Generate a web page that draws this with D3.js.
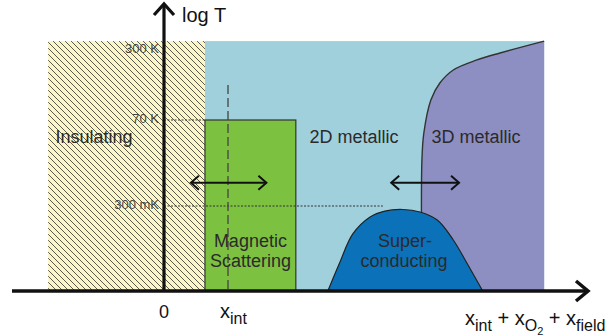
<!DOCTYPE html>
<html><head><meta charset="utf-8">
<script src="https://cdn.jsdelivr.net/npm/d3@7"></script>
<style>body{margin:0;background:#fff}svg{display:block;font-family:"Liberation Sans",Arial,sans-serif}</style>
</head><body><svg id="c" width="609" height="336"></svg>
<script>
// ---- data (schematic phase diagram) ----
const tickLabels = ["300 mK", "70 K", "300 K"];
const tickTemps = [0.3, 70, 300];
const phaseNames = ["Insulating", "2D metallic", "3D metallic"];
const phaseBounds = [-1.81, 0.64, 5.94];      // x units: insulating start, metallic start, right end
const tTop = 361, tBottom = 0.01;
const magX = [0.64, 2.06];                     // magnetic scattering range
const magT = 70;
const xIntDashTop = 145;
const scDomeX = [2.56, 2.75, 2.95, 3.22, 3.45, 3.73, 4.0, 4.27, 4.52, 4.73, 4.98];
const scDomeT = [0.01, 0.032, 0.098, 0.193, 0.245, 0.261, 0.236, 0.171, 0.077, 0.031, 0.01];
const bound3DX = [4.03, 4.03, 4.06, 4.17, 4.31, 4.52, 4.89, 5.25, 5.94];
const bound3DT = [0.01, 5.5, 30.7, 106, 151, 198, 244, 282, 361];
const arrowT = 1.3;
const arrowsX = [[0.42, 1.6], [3.55, 4.61]];
const mKLineEnd = 3.42;

// ---- scales ----
const svg = d3.select("#c");
const x = d3.scaleLinear().domain([-2.375, 6.625]).range([12, 588]);
const yl = d3.scaleLinear()
  .domain([Math.log10(tBottom), Math.log10(0.3), Math.log10(70), Math.log10(300)])
  .range([291, 206, 120, 50]);
const y = t => yl(Math.log10(t));

const defs = svg.append("defs");
const pat = defs.append("pattern").attr("id", "hatch").attr("patternUnits", "userSpaceOnUse")
  .attr("width", 6).attr("height", 6);
pat.append("rect").attr("width", 6).attr("height", 6).attr("fill", "#fbf6c9");
pat.append("path").attr("d", "M0,0L6,6M-1,5L1,7M5,-1L7,1")
  .attr("stroke", "#5a5a4c").attr("stroke-width", 1);

// insulating region
svg.append("rect").attr("x", x(phaseBounds[0])).attr("y", y(tTop))
  .attr("width", x(phaseBounds[1]) - x(phaseBounds[0])).attr("height", y(tBottom) - y(tTop))
  .attr("fill", "url(#hatch)");
// 2D metallic region
svg.append("rect").attr("x", x(phaseBounds[1])).attr("y", y(tTop))
  .attr("width", x(phaseBounds[2]) - x(phaseBounds[1])).attr("height", y(tBottom) - y(tTop))
  .attr("fill", "#a0d0dc");
// 3D metallic region
const bpts = bound3DX.map((v, i) => [x(v), y(bound3DT[i])]);
const lineGen = d3.line().curve(d3.curveCatmullRom.alpha(0.5));
svg.append("path").attr("d", lineGen(bpts) + `L${x(phaseBounds[2])},${y(tBottom)}L${bpts[0][0]},${bpts[0][1]}Z`)
  .attr("fill", "#8d8fc3");
svg.append("path").attr("d", lineGen(bpts)).attr("fill", "none")
  .attr("stroke", "#333").attr("stroke-width", 1.4);

// magnetic scattering
svg.append("rect").attr("x", x(magX[0])).attr("y", y(magT))
  .attr("width", x(magX[1]) - x(magX[0])).attr("height", y(tBottom) - y(magT))
  .attr("fill", "#7dc141").attr("stroke", "#333").attr("stroke-width", 1.2);

// dotted level lines
svg.append("line").attr("x1", x(0)).attr("x2", x(phaseBounds[1])).attr("y1", y(70)).attr("y2", y(70))
  .attr("stroke", "#333").attr("stroke-width", 1).attr("stroke-dasharray", "2,1.5");
svg.append("line").attr("x1", x(0)).attr("x2", x(mKLineEnd)).attr("y1", y(0.3)).attr("y2", y(0.3))
  .attr("stroke", "#333").attr("stroke-width", 1).attr("stroke-dasharray", "2,1.5");

// x_int dashed
svg.append("line").attr("x1", x(1)).attr("x2", x(1)).attr("y1", y(xIntDashTop)).attr("y2", y(tBottom))
  .attr("stroke", "#444").attr("stroke-width", 1.3).attr("stroke-dasharray", "9,4");

// superconducting dome
const dpts = scDomeX.map((v, i) => [x(v), y(scDomeT[i])]);
svg.append("path").attr("d", d3.line().curve(d3.curveCatmullRom.alpha(0.5))(dpts) + "Z")
  .attr("fill", "#0b72b9").attr("stroke", "#222").attr("stroke-width", 1.2);

// double arrows
function dblArrow(x1, x2, yy) {
  const g = svg.append("g").attr("stroke", "#111").attr("stroke-width", 2).attr("fill", "none");
  g.append("line").attr("x1", x1).attr("x2", x2).attr("y1", yy).attr("y2", yy);
  g.append("path").attr("d", `M${x1 + 8},${yy - 7}L${x1},${yy}L${x1 + 8},${yy + 7}`);
  g.append("path").attr("d", `M${x2 - 8},${yy - 7}L${x2},${yy}L${x2 - 8},${yy + 7}`);
}
arrowsX.forEach(a => dblArrow(x(a[0]), x(a[1]), y(arrowT)));

// phase labels
const txt = (s, px, py, size, anchor) => svg.append("text").attr("x", px).attr("y", py)
  .attr("font-size", size).attr("fill", "#2a2a2a").attr("text-anchor", anchor || "middle").text(s);
txt(phaseNames[0], 94, 143, 18);
txt(phaseNames[1], 354, 143, 18);
txt(phaseNames[2], 476, 143, 18);
txt("Magnetic", (x(magX[0]) + x(magX[1])) / 2, 247, 18);
txt("Scattering", (x(magX[0]) + x(magX[1])) / 2, 267, 18);
txt("Super-", 405, 247, 18);
txt("conducting", 404, 267, 18);

// tick labels
tickLabels.forEach((s, i) => {
  svg.append("text").attr("x", x(0) - 5).attr("y", y(tickTemps[i]) + 3)
    .attr("font-size", 13).attr("fill", "#444").attr("text-anchor", "end").text(s);
});

// axes
const ax = svg.append("g").attr("stroke", "#111").attr("fill", "none").attr("stroke-linecap", "butt");
ax.append("line").attr("x1", x(-2.375)).attr("x2", x(6.6)).attr("y1", y(tBottom)).attr("y2", y(tBottom)).attr("stroke-width", 3.5);
ax.append("path").attr("d", `M${x(6.625) - 12},${y(tBottom) - 10}L${x(6.625)},${y(tBottom)}L${x(6.625) - 12},${y(tBottom) + 10}`).attr("stroke-width", 3.5);
ax.append("line").attr("x1", x(0)).attr("x2", x(0)).attr("y1", 5).attr("y2", y(tBottom)).attr("stroke-width", 3.2);
ax.append("path").attr("d", `M${x(0) - 10},15L${x(0)},4L${x(0) + 10},15`).attr("stroke-width", 3.2);

// axis labels
txt("log T", 182, 22, 20, "start").attr("fill", "#111");
txt("0", x(0), 318, 18).attr("fill", "#111");
const xi = svg.append("text").attr("x", 220).attr("y", 318).attr("font-size", 20).attr("fill", "#111");
xi.append("tspan").text("x");
xi.append("tspan").attr("font-size", 16).attr("dy", 6).text("int");
const xl = svg.append("text").attr("x", 465).attr("y", 325).attr("font-size", 20).attr("fill", "#111");
xl.append("tspan").text("x");
xl.append("tspan").attr("font-size", 16).attr("dy", 6).text("int");
xl.append("tspan").attr("dy", -6).text(" + x");
xl.append("tspan").attr("font-size", 16).attr("dy", 6).text("O");
xl.append("tspan").attr("font-size", 11).attr("dy", 4).text("2");
xl.append("tspan").attr("dy", -10).text(" + x");
xl.append("tspan").attr("font-size", 16).attr("dy", 6).text("field");
</script></body></html>
